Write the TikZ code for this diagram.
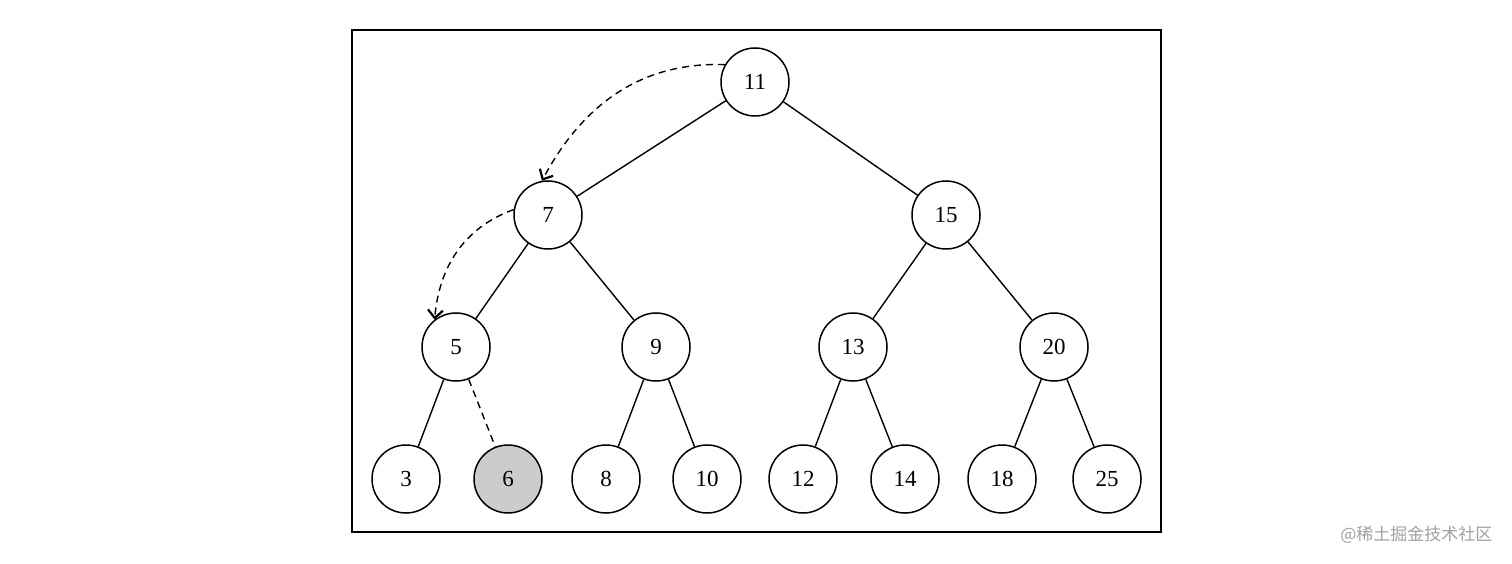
\documentclass[tikz,border=0pt]{standalone}
\usepackage{fontspec}
\setmainfont{Liberation Serif}
\newfontfamily\cjk{Noto Sans CJK SC}
\usetikzlibrary{arrows.meta}
\definecolor{fillgray}{RGB}{204,204,204}
\definecolor{wmgray}{RGB}{160,160,160}
\begin{document}
\begin{tikzpicture}[x=1pt,y=1pt,
  tnode/.style={circle,draw,line width=1.5pt,minimum size=68pt,inner sep=0pt,font=\fontsize{23}{27}\selectfont},
  edge/.style={line width=1.4pt},
  dashedge/.style={line width=1.4pt,dash pattern=on 7pt off 5pt},
  darrow/.style={line width=1.4pt,dash pattern=on 7pt off 5pt,-{Straight Barb[length=8pt,width=15pt,line width=2.2pt]}}]
\useasboundingbox (0,0) rectangle (1512,563);
\draw[line width=2pt] (352,31) rectangle (1161,533);
\node[tnode] (n11) at (755,481) {11};
\node[tnode] (n7) at (548,348) {7};
\node[tnode] (n15) at (946,348) {15};
\node[tnode] (n5) at (456,216) {5};
\node[tnode] (n9) at (656,216) {9};
\node[tnode] (n13) at (853,216) {13};
\node[tnode] (n20) at (1054,216) {20};
\node[tnode] (n3) at (406,84) {3};
\node[tnode,fill=fillgray] (n6) at (508,84) {6};
\node[tnode] (n8) at (606,84) {8};
\node[tnode] (n10) at (707,84) {10};
\node[tnode] (n12) at (803,84) {12};
\node[tnode] (n14) at (905,84) {14};
\node[tnode] (n18) at (1002,84) {18};
\node[tnode] (n25) at (1107,84) {25};
\draw[edge] (n11) -- (n7);
\draw[edge] (n11) -- (n15);
\draw[edge] (n7) -- (n5);
\draw[edge] (n7) -- (n9);
\draw[edge] (n15) -- (n13);
\draw[edge] (n15) -- (n20);
\draw[edge] (n5) -- (n3);
\draw[dashedge] (n5) -- (n6);
\draw[edge] (n9) -- (n8);
\draw[edge] (n9) -- (n10);
\draw[edge] (n13) -- (n12);
\draw[edge] (n13) -- (n14);
\draw[edge] (n20) -- (n18);
\draw[edge] (n20) -- (n25);
\draw[darrow] (n11.150) to[out=178,in=62] (n7.100);
\draw[darrow] (n7.171) to[out=200,in=85] (n5.128);
\node[font=\cjk\fontsize{17}{20}\selectfont,text=wmgray,anchor=east] (wm) at (1496,28) {@稀土掘金技术社区};
\end{tikzpicture}
\end{document}
